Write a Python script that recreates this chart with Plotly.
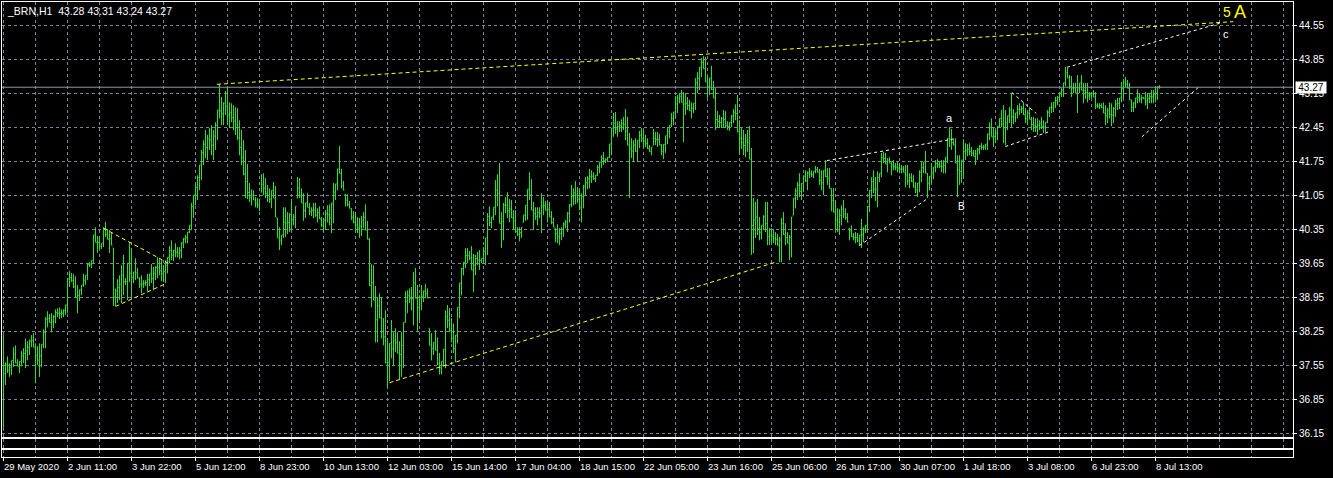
import plotly.graph_objects as go

# ---------------- data ----------------
symbol_text = "_BRN,H1  43.28 43.31 43.24 43.27"
last_open, last_close = 43.28, 43.27
bid_price = 43.27

high = [
 38.17, 37.61, 37.73, 37.59, 37.65, 37.92, 37.96, 37.67, 37.63, 37.84,
 37.90, 38.10, 38.04, 38.08, 38.17, 38.21, 38.00, 37.94, 38.00, 37.98,
 38.29, 38.54, 38.66, 38.60, 38.62, 38.58, 38.70, 38.72, 38.74, 38.70,
 38.70, 38.79, 39.34, 39.49, 39.45, 39.43, 39.38, 39.20, 39.11, 39.20,
 39.43, 39.40, 39.65, 39.67, 39.71, 40.23, 40.39, 40.21, 40.21, 40.06,
 40.39, 40.50, 40.35, 40.33, 40.29, 39.96, 39.13, 39.32, 39.40, 39.61,
 39.82, 39.34, 39.65, 40.08, 39.96, 39.47, 39.75, 39.55, 39.36, 39.40,
 39.30, 39.30, 39.43, 39.43, 39.63, 39.57, 39.59, 39.77, 39.73, 39.71,
 39.61, 39.71, 39.77, 40.00, 40.12, 39.92, 40.06, 39.98, 39.98, 40.08,
 40.17, 40.23, 40.29, 40.43, 40.89, 41.05, 41.26, 41.46, 41.67, 41.98,
 42.18, 42.39, 42.29, 42.43, 42.49, 42.39, 42.55, 42.80, 43.34, 43.07,
 42.96, 43.19, 43.25, 42.96, 42.94, 42.90, 42.86, 42.84, 42.59, 42.39,
 42.18, 41.98, 41.69, 41.30, 41.17, 41.15, 41.01, 40.99, 40.97, 41.48,
 41.50, 41.40, 41.26, 41.19, 41.15, 41.32, 41.24, 40.58, 40.39, 40.23,
 40.80, 40.80, 40.70, 40.68, 40.97, 40.66, 40.82, 41.42, 41.40, 41.19,
 41.09, 40.89, 41.09, 40.89, 40.80, 40.89, 40.89, 40.78, 40.82, 40.60,
 40.58, 40.74, 40.84, 40.86, 40.89, 41.30, 41.28, 41.59, 42.06, 41.59,
 41.34, 41.07, 41.07, 40.93, 40.78, 40.72, 40.70, 40.60, 40.58, 40.62,
 40.70, 40.86, 40.52, 40.17, 39.63, 39.61, 39.18, 38.95, 39.03, 38.95,
 38.52, 38.68, 38.10, 38.00, 38.48, 38.23, 38.31, 38.23, 38.04, 38.23,
 38.43, 39.07, 39.09, 39.13, 39.16, 39.47, 39.55, 39.20, 38.99, 39.20,
 39.09, 39.22, 39.13, 38.31, 38.21, 38.02, 38.27, 38.12, 37.80, 37.63,
 37.88, 38.68, 38.79, 38.72, 38.52, 38.41, 38.17, 38.74, 39.24, 39.55,
 39.67, 39.96, 39.96, 39.90, 40.00, 39.84, 39.82, 39.88, 39.92, 39.75,
 39.98, 40.17, 40.68, 40.82, 40.60, 40.80, 41.36, 41.48, 41.71, 40.70,
 40.89, 41.01, 41.11, 40.97, 40.95, 40.74, 40.74, 40.39, 40.39, 40.39,
 40.64, 40.84, 41.17, 41.52, 41.38, 40.91, 40.80, 40.80, 40.80, 41.09,
 41.01, 40.93, 40.91, 40.91, 40.72, 40.58, 40.37, 40.45, 40.37, 40.39,
 40.49, 40.54, 40.70, 40.86, 41.26, 41.19, 41.34, 41.21, 41.19, 41.09,
 41.26, 41.42, 41.44, 41.59, 41.56, 41.52, 41.46, 41.67, 41.73, 41.87,
 41.94, 41.81, 41.83, 42.10, 42.43, 42.74, 42.76, 42.57, 42.57, 42.61,
 42.66, 42.82, 42.66, 42.33, 42.22, 42.18, 42.22, 42.18, 42.37, 42.43,
 42.39, 42.29, 42.22, 42.08, 42.04, 42.41, 42.35, 42.35, 42.31, 42.10,
 42.10, 42.27, 42.45, 42.49, 42.74, 42.76, 43.09, 43.11, 43.15, 43.21,
 43.17, 43.15, 43.07, 43.01, 42.96, 42.94, 43.46, 43.58, 43.69, 43.87,
 43.91, 43.89, 43.50, 43.46, 43.71, 43.40, 43.25, 42.78, 42.70, 42.66,
 42.80, 42.78, 42.57, 42.55, 42.70, 42.82, 42.92, 43.11, 42.59, 42.43,
 42.39, 42.31, 42.39, 42.47, 42.02, 40.99, 40.91, 40.97, 40.60, 40.43,
 40.64, 40.91, 40.91, 40.37, 40.37, 40.35, 40.29, 40.25, 40.19, 40.58,
 40.70, 40.47, 40.29, 40.23, 40.60, 40.99, 41.19, 41.32, 41.50, 41.30,
 41.46, 41.56, 41.54, 41.61, 41.56, 41.54, 41.65, 41.63, 41.59, 41.56,
 41.56, 41.77, 41.61, 41.61, 41.19, 41.19, 40.95, 40.78, 40.76, 40.84,
 40.95, 40.78, 40.68, 40.37, 40.43, 40.27, 40.29, 40.27, 40.23, 40.56,
 40.39, 40.43, 40.82, 41.15, 41.42, 41.56, 41.42, 41.54, 41.50, 41.92,
 41.94, 41.92, 41.81, 41.83, 41.73, 41.77, 41.71, 41.73, 41.71, 41.67,
 41.65, 41.67, 41.67, 41.50, 41.50, 41.46, 41.32, 41.30, 41.56, 41.73,
 41.73, 41.96, 41.50, 41.44, 41.71, 41.63, 41.77, 41.79, 41.73, 41.77,
 41.77, 41.83, 42.22, 42.45, 42.41, 42.18, 42.22, 41.87, 41.87, 41.77,
 42.20, 42.12, 42.10, 42.12, 42.04, 41.98, 41.98, 42.02, 42.08, 42.12,
 42.08, 42.10, 42.31, 42.55, 42.63, 42.43, 42.39, 42.47, 42.63, 42.80,
 42.90, 42.80, 42.68, 42.86, 43.15, 42.82, 42.74, 42.90, 42.94, 42.88,
 42.96, 42.84, 42.76, 42.86, 42.66, 42.66, 42.63, 42.63, 42.59, 42.66,
 42.59, 42.55, 42.80, 42.86, 42.96, 42.96, 43.07, 43.09, 43.15, 43.25,
 43.36, 43.69, 43.67, 43.52, 43.50, 43.36, 43.36, 43.52, 43.36, 43.52,
 43.36, 43.36, 43.36, 43.17, 43.17, 43.21, 43.17, 42.94, 42.94, 42.94,
 42.96, 42.90, 42.84, 42.96, 42.94, 42.86, 43.01, 43.05, 43.05, 43.38,
 43.44, 43.48, 43.42, 43.36, 43.01, 42.96, 43.05, 43.23, 43.15, 43.11,
 43.07, 43.17, 43.15, 43.15, 43.21, 43.21, 43.27, 43.29, 43.31,
]

low = [
 36.25, 37.14, 37.39, 37.31, 37.35, 37.51, 37.59, 37.53, 37.39, 37.53,
 37.59, 37.49, 37.65, 37.76, 37.92, 37.92, 37.18, 37.55, 37.31, 37.51,
 37.90, 37.90, 38.33, 38.43, 38.23, 38.31, 38.41, 38.54, 38.50, 38.52,
 38.54, 38.58, 38.62, 39.16, 39.26, 39.14, 38.95, 38.62, 38.87, 38.99,
 39.16, 39.20, 39.30, 39.57, 39.55, 39.65, 40.08, 39.86, 39.94, 39.94,
 39.98, 40.19, 40.14, 39.86, 40.02, 38.77, 38.77, 38.83, 38.89, 38.83,
 38.99, 39.20, 38.89, 39.26, 38.93, 39.24, 39.30, 39.34, 39.14, 39.03,
 39.14, 39.18, 39.07, 39.18, 39.24, 39.09, 39.30, 39.34, 39.40, 39.28,
 39.26, 39.24, 39.44, 39.65, 39.71, 39.69, 39.77, 39.77, 39.73, 39.75,
 39.96, 40.06, 40.06, 40.27, 40.33, 40.58, 40.84, 40.95, 41.15, 41.36,
 41.67, 41.81, 41.77, 41.98, 41.87, 41.77, 41.98, 42.18, 42.63, 42.49,
 42.49, 42.70, 42.49, 42.43, 42.55, 42.39, 42.29, 42.18, 41.87, 41.67,
 41.46, 40.99, 40.97, 40.91, 40.84, 40.95, 40.80, 40.78, 40.72, 41.11,
 41.05, 40.99, 40.91, 40.89, 40.78, 40.99, 40.60, 40.17, 39.92, 40.02,
 40.17, 40.19, 40.25, 40.29, 40.33, 40.43, 40.37, 40.99, 40.99, 40.89,
 40.52, 40.58, 40.80, 40.64, 40.62, 40.58, 40.60, 40.49, 40.56, 40.39,
 40.29, 40.33, 40.49, 40.43, 40.27, 40.47, 40.95, 41.15, 41.50, 41.19,
 41.15, 40.82, 40.82, 40.78, 40.54, 40.47, 40.29, 40.27, 40.17, 40.21,
 40.37, 40.33, 40.14, 39.18, 38.74, 38.89, 38.02, 38.02, 38.52, 38.10,
 37.96, 37.59, 37.10, 37.22, 37.69, 37.55, 37.82, 37.80, 37.26, 37.31,
 37.49, 38.43, 38.62, 38.83, 38.68, 38.37, 38.93, 38.23, 38.48, 38.68,
 38.85, 38.93, 38.93, 37.96, 37.65, 37.76, 37.86, 37.55, 37.36, 37.36,
 37.53, 37.49, 38.31, 38.23, 38.02, 37.80, 37.61, 38.00, 38.52, 38.99,
 39.40, 39.55, 39.65, 39.71, 39.51, 39.05, 39.40, 39.61, 39.51, 39.65,
 39.65, 39.61, 39.82, 40.41, 40.37, 40.54, 40.64, 40.82, 40.47, 39.96,
 40.12, 40.68, 40.58, 40.49, 40.58, 40.33, 40.29, 40.21, 40.10, 40.17,
 40.49, 40.52, 40.54, 40.95, 40.74, 40.33, 40.54, 40.43, 40.58, 40.27,
 40.64, 40.74, 40.49, 40.60, 40.45, 40.39, 40.08, 40.06, 40.02, 40.12,
 40.19, 40.37, 40.29, 40.49, 40.80, 40.84, 40.86, 40.89, 40.74, 40.49,
 40.78, 41.05, 41.17, 41.19, 41.30, 41.36, 41.32, 41.44, 41.50, 41.61,
 41.67, 41.71, 41.73, 41.81, 41.87, 42.25, 42.31, 42.25, 42.35, 42.35,
 42.39, 42.18, 42.08, 40.99, 41.81, 41.73, 41.94, 41.73, 42.02, 42.14,
 42.02, 42.04, 42.00, 41.94, 41.87, 42.08, 42.08, 42.04, 42.08, 41.87,
 41.79, 41.92, 42.10, 42.22, 42.45, 42.49, 42.63, 42.74, 42.94, 42.96,
 42.14, 42.70, 42.80, 42.78, 42.63, 42.74, 42.80, 43.15, 43.21, 43.48,
 43.65, 43.38, 43.05, 43.11, 43.21, 43.05, 42.39, 42.43, 42.43, 42.43,
 42.45, 42.43, 42.39, 42.37, 42.45, 42.53, 42.59, 42.35, 41.92, 42.00,
 41.87, 41.83, 41.94, 41.79, 39.82, 39.86, 40.17, 40.23, 40.12, 40.14,
 40.33, 40.29, 40.02, 40.02, 40.08, 40.06, 40.02, 40.02, 39.67, 39.67,
 40.23, 40.02, 40.06, 39.71, 39.77, 40.64, 40.78, 40.95, 41.01, 40.95,
 41.11, 41.32, 41.15, 41.40, 41.42, 41.40, 41.50, 41.52, 41.26, 41.15,
 41.05, 41.42, 41.26, 41.19, 40.72, 40.70, 40.33, 40.29, 40.23, 40.43,
 40.58, 40.54, 40.49, 40.12, 40.19, 40.12, 40.06, 40.08, 40.02, 39.96,
 40.08, 40.27, 40.29, 40.70, 40.99, 41.09, 40.93, 40.80, 41.32, 41.42,
 41.71, 41.69, 41.52, 41.71, 41.46, 41.56, 41.56, 41.52, 41.50, 41.50,
 41.52, 41.21, 41.26, 41.19, 41.32, 41.21, 41.09, 41.01, 41.11, 41.32,
 41.50, 41.50, 40.99, 41.15, 41.30, 41.38, 41.52, 41.61, 41.61, 41.52,
 41.50, 41.50, 41.71, 42.04, 41.98, 42.08, 41.71, 41.01, 41.26, 41.30,
 41.40, 41.77, 41.85, 41.87, 41.85, 41.85, 41.67, 41.77, 41.89, 41.98,
 41.98, 41.98, 41.98, 42.18, 42.25, 42.04, 42.12, 42.18, 42.45, 42.45,
 42.12, 42.08, 42.39, 42.53, 42.45, 42.51, 42.55, 42.63, 42.70, 42.74,
 42.70, 42.53, 42.49, 42.61, 42.39, 42.35, 42.35, 42.29, 42.39, 42.41,
 42.33, 42.35, 42.53, 42.66, 42.74, 42.76, 42.84, 42.90, 42.96, 43.07,
 43.07, 43.29, 43.46, 43.23, 43.07, 43.15, 43.15, 42.74, 43.15, 43.21,
 42.94, 43.03, 42.96, 43.01, 43.05, 43.07, 42.82, 42.84, 42.82, 42.84,
 42.74, 42.49, 42.53, 42.63, 42.47, 42.53, 42.66, 42.80, 42.82, 42.96,
 43.05, 43.27, 43.25, 43.01, 42.76, 42.76, 42.84, 42.94, 42.96, 42.94,
 43.03, 42.90, 42.82, 42.94, 42.94, 42.94, 42.96, 43.01, 43.24,
]

x_tick_pos = [0, 32, 64, 96, 128, 160, 192, 224, 256, 288, 320, 352, 384,
              416, 448, 480, 512, 544, 576]
x_tick_text = ["29 May 2020", "2 Jun 11:00", "3 Jun 22:00", "5 Jun 12:00",
               "8 Jun 23:00", "10 Jun 13:00", "12 Jun 03:00", "15 Jun 14:00",
               "17 Jun 04:00", "18 Jun 15:00", "22 Jun 05:00", "23 Jun 16:00",
               "25 Jun 06:00", "26 Jun 17:00", "30 Jun 07:00", "1 Jul 18:00",
               "3 Jul 08:00", "6 Jul 23:00", "8 Jul 13:00"]
x_grid_pos = list(range(0, 645, 16))
price_ticks = [36.15, 36.85, 37.55, 38.25, 38.95, 39.65, 40.35, 41.05,
               41.75, 42.45, 43.15, 43.85, 44.55]

# trend lines drawn on the chart (bar index, price)
line_x0 = [106.7, 50.0, 56.0, 193.0, 411.7, 427.9, 504.2, 500.9, 531.7, 569.2]
line_p0 = [43.33, 40.37, 38.76, 37.19, 41.76, 40.01, 43.16, 42.05, 43.68, 42.25]
line_x1 = [614.9, 83.3, 80.7, 386.0, 475.9, 461.7, 516.4, 522.5, 608.4, 597.5]
line_p1 = [44.62, 39.63, 39.22, 39.67, 42.21, 40.97, 42.73, 42.35, 44.59, 43.27]
line_col = ["#ffff00"] * 4 + ["#ffffff"] * 6

# wave labels
lab_text = ["a", "B", "c", "5", "A"]
lab_x = [473.2, 479.1, 611.1, 611.9, 618.1]
lab_p = [42.64, 40.82, 44.37, 44.82, 44.81]
lab_col = ["#ffffff", "#ffffff", "#ffffff", "#ffff00", "#ffff00"]
lab_size = [11, 10, 11, 14, 18]

# ---------------- figure ----------------
GREEN = "#2be02b"
GRID = "#778899"
FONT = "Liberation Sans, Arial, sans-serif"

n = len(high)
idx = list(range(n))
close = []
for i in range(n):
    if i == n - 1:
        c = last_close
    else:
        c = (high[i + 1] + low[i + 1]) / 2
    close.append(min(max(c, low[i]), high[i]))
opn = [(high[0] + low[0]) / 2] + [min(max(close[i - 1], low[i]), high[i]) for i in range(1, n)]
opn[-1] = last_open

fig = go.Figure()
fig.add_trace(go.Ohlc(
    x=idx, open=opn, high=high, low=low, close=close,
    increasing=dict(line=dict(color=GREEN, width=1)),
    decreasing=dict(line=dict(color=GREEN, width=1)),
    tickwidth=0.5, hoverinfo="skip", showlegend=False,
    xaxis="x", yaxis="y"))

for i in range(len(line_x0)):
    dash = "4px,3px" if line_col[i] == "#ffff00" else "3px,3px"
    fig.add_trace(go.Scatter(
        x=[line_x0[i], line_x1[i]], y=[line_p0[i], line_p1[i]],
        mode="lines", line=dict(color=line_col[i], width=1, dash=dash),
        hoverinfo="skip", showlegend=False, xaxis="x", yaxis="y"))

H = 478
plot_top, plot_bot = 2, 457
ph = plot_bot - plot_top

def frac(ypx):
    return 1 - (ypx - plot_top) / ph

x_range = [-0.75, 644.75]
xcommon = dict(range=x_range, showgrid=True, gridcolor=GRID, griddash="3px,3px",
               gridwidth=1, zeroline=False, showline=True, linecolor="#ffffff",
               linewidth=1, mirror=True, fixedrange=True,
               rangeslider=dict(visible=False))

annotations = []
for pos, txt in zip(x_tick_pos, x_tick_text):
    annotations.append(dict(x=pos, xref="x", y=frac(467), yref="paper",
                            text=txt, showarrow=False, xanchor="left",
                            yanchor="middle", xshift=-2,
                            font=dict(color="#ffffff", size=9.5, family=FONT)))
for t, xx, pp, cc, ss in zip(lab_text, lab_x, lab_p, lab_col, lab_size):
    annotations.append(dict(x=xx, y=pp, xref="x", yref="y", text=t,
                            showarrow=False, font=dict(color=cc, size=ss, family=FONT)))
annotations.append(dict(x=0, xref="paper", y=frac(10.5), yref="paper",
                        text=symbol_text, showarrow=False, xanchor="left",
                        yanchor="middle", xshift=3,
                        font=dict(color="#ffffff", size=10.5, family=FONT)))
annotations.append(dict(x=1, xref="paper", y=bid_price, yref="y",
                        text="%.2f" % bid_price, showarrow=False, xanchor="left",
                        yanchor="middle", xshift=2, bgcolor="#ffffff",
                        width=28, height=9, borderpad=1,
                        font=dict(color="#000000", size=10, family=FONT)))

fig.update_layout(
    width=1333, height=H,
    margin=dict(l=2, r=40, t=plot_top, b=H - plot_bot, pad=0),
    paper_bgcolor="#000000", plot_bgcolor="#000000",
    showlegend=False, hovermode=False,
    xaxis=dict(xcommon, anchor="y", tickvals=x_grid_pos, showticklabels=False, ticks=""),
    yaxis=dict(domain=[frac(437), 1], range=[36.073, 45.024], side="right",
               tickvals=price_ticks, ticktext=["%.2f" % p for p in price_ticks],
               ticks="outside", ticklen=3, tickcolor="#ffffff",
               tickfont=dict(color="#ffffff", size=10, family=FONT),
               showgrid=True, gridcolor=GRID, griddash="3px,3px", zeroline=False,
               showline=True, linecolor="#ffffff", mirror=True, fixedrange=True),
    xaxis2=dict(xcommon, anchor="y2", matches="x", tickvals=x_grid_pos,
                showticklabels=False, ticks=""),
    yaxis2=dict(domain=[frac(448.3), frac(439.3)], range=[0, 1], showgrid=False,
                showticklabels=False, ticks="", zeroline=False, showline=True,
                linecolor="#ffffff", mirror=True, fixedrange=True),
    xaxis3=dict(xcommon, anchor="y3", matches="x", tickvals=x_tick_pos,
                showticklabels=False, ticks="outside", ticklen=3, tickcolor="#ffffff",
                minor=dict(tickvals=[v for v in x_grid_pos if v % 32 != 0],
                           showgrid=True, gridcolor=GRID, griddash="3px,3px", ticks="")),
    yaxis3=dict(domain=[0, frac(450.3)], range=[0, 1], showgrid=False,
                showticklabels=False, ticks="", zeroline=False, showline=True,
                linecolor="#ffffff", mirror=True, fixedrange=True),
    shapes=[dict(type="line", xref="paper", x0=0, x1=1, yref="y",
                 y0=bid_price, y1=bid_price, line=dict(color="#8a99a8", width=1))],
    annotations=annotations,
)
# invisible traces so the sub-window axes render
fig.add_trace(go.Scatter(x=[None], y=[None], xaxis="x2", yaxis="y2", showlegend=False))
fig.add_trace(go.Scatter(x=[None], y=[None], xaxis="x3", yaxis="y3", showlegend=False))

fig.write_html("out.html", config={"displayModeBar": False},
               post_script="document.body.style.margin='0';"
                           "document.body.style.padding='0';"
                           "document.body.style.background='#000';"
                           "document.body.style.overflow='hidden';")
